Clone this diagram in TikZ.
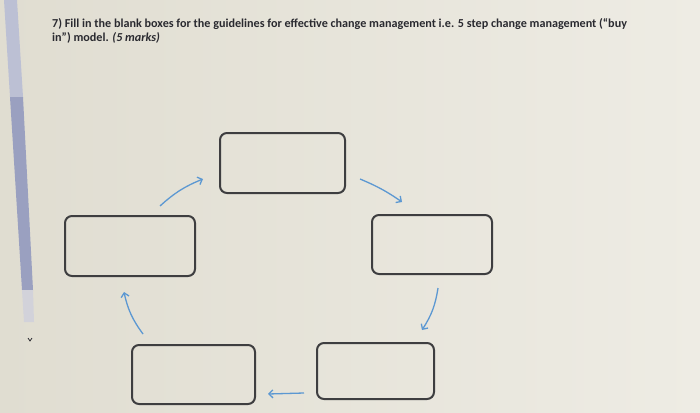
\documentclass[tikz,border=0pt]{standalone}
\usepackage{fontspec}
\setmainfont{Carlito}
\usetikzlibrary{arrows.meta}
\definecolor{paperleft}{RGB}{224,221,209}
\definecolor{paperright}{RGB}{238,236,228}
\definecolor{boxgray}{RGB}{62,62,64}
\definecolor{arrowblue}{RGB}{92,152,210}
\definecolor{inkgray}{RGB}{42,42,48}
\definecolor{scrolllight}{RGB}{188,192,212}
\definecolor{scrolldark}{RGB}{154,160,192}
\definecolor{scrolltrack}{RGB}{210,210,218}
\begin{document}
\begin{tikzpicture}[x=1pt,y=-1pt]
\tikzstyle{blank}=[draw=boxgray, line width=2pt, rounded corners=7pt, inner sep=0pt]
\tikzstyle{flow}=[draw=arrowblue, line width=1.3pt, -{Straight Barb[length=4pt,width=8pt]}]
% paper and scroll bar
\shade[left color=paperleft, right color=paperright] (0,0) rectangle (700,412);
\fill[scrolllight] (4,0) -- (17,0) -- (23,97) -- (10,97) -- cycle;
\fill[scrolldark] (10,97) -- (23,97) -- (33,290) -- (22,290) -- cycle;
\fill[scrolltrack] (22,290) -- (33,290) -- (34,322) -- (24,322) -- cycle;
\draw[inkgray, line width=0.8pt] (28,338) -- (30,341) -- (32,338);
% question
\node[anchor=north west, align=left, inner sep=0pt, text=inkgray,
  font=\bfseries\fontsize{12.15}{14}\selectfont] (question) at (52,18)
  {7) Fill in the blank boxes for the guidelines for effective change management i.e. 5 step change management (“buy\\
   in”) model. \textit{(5 marks)}};
% blank boxes
\node[blank, minimum width=125pt, minimum height=60pt] (step1) at (282.5,163) {};
\node[blank, minimum width=120pt, minimum height=59pt] (step2) at (432,244.5) {};
\node[blank, minimum width=117pt, minimum height=56pt] (step3) at (375.5,371) {};
\node[blank, minimum width=123pt, minimum height=59pt] (step4) at (193.5,374.5) {};
\node[blank, minimum width=130pt, minimum height=60pt] (step5) at (130,246) {};
% arrow ends
\coordinate (s5a) at (160,206); \coordinate (s1a) at (203,179);
\coordinate (s1b) at (360,179); \coordinate (s2a) at (402,202);
\coordinate (s2b) at (438,288); \coordinate (s3a) at (422,330);
\coordinate (s3b) at (304,393); \coordinate (s4a) at (268,394);
\coordinate (s4b) at (143,334); \coordinate (s5b) at (124,292);
\draw[flow] (s5a) to[bend left=10] (s1a);
\draw[flow] (s1b) to[bend left=6] (s2a);
\draw[flow] (s2b) to[bend left=12] (s3a);
\draw[flow] (s3b) -- (s4a);
\draw[flow] (s4b) to[bend left=12] (s5b);
\end{tikzpicture}
\end{document}
